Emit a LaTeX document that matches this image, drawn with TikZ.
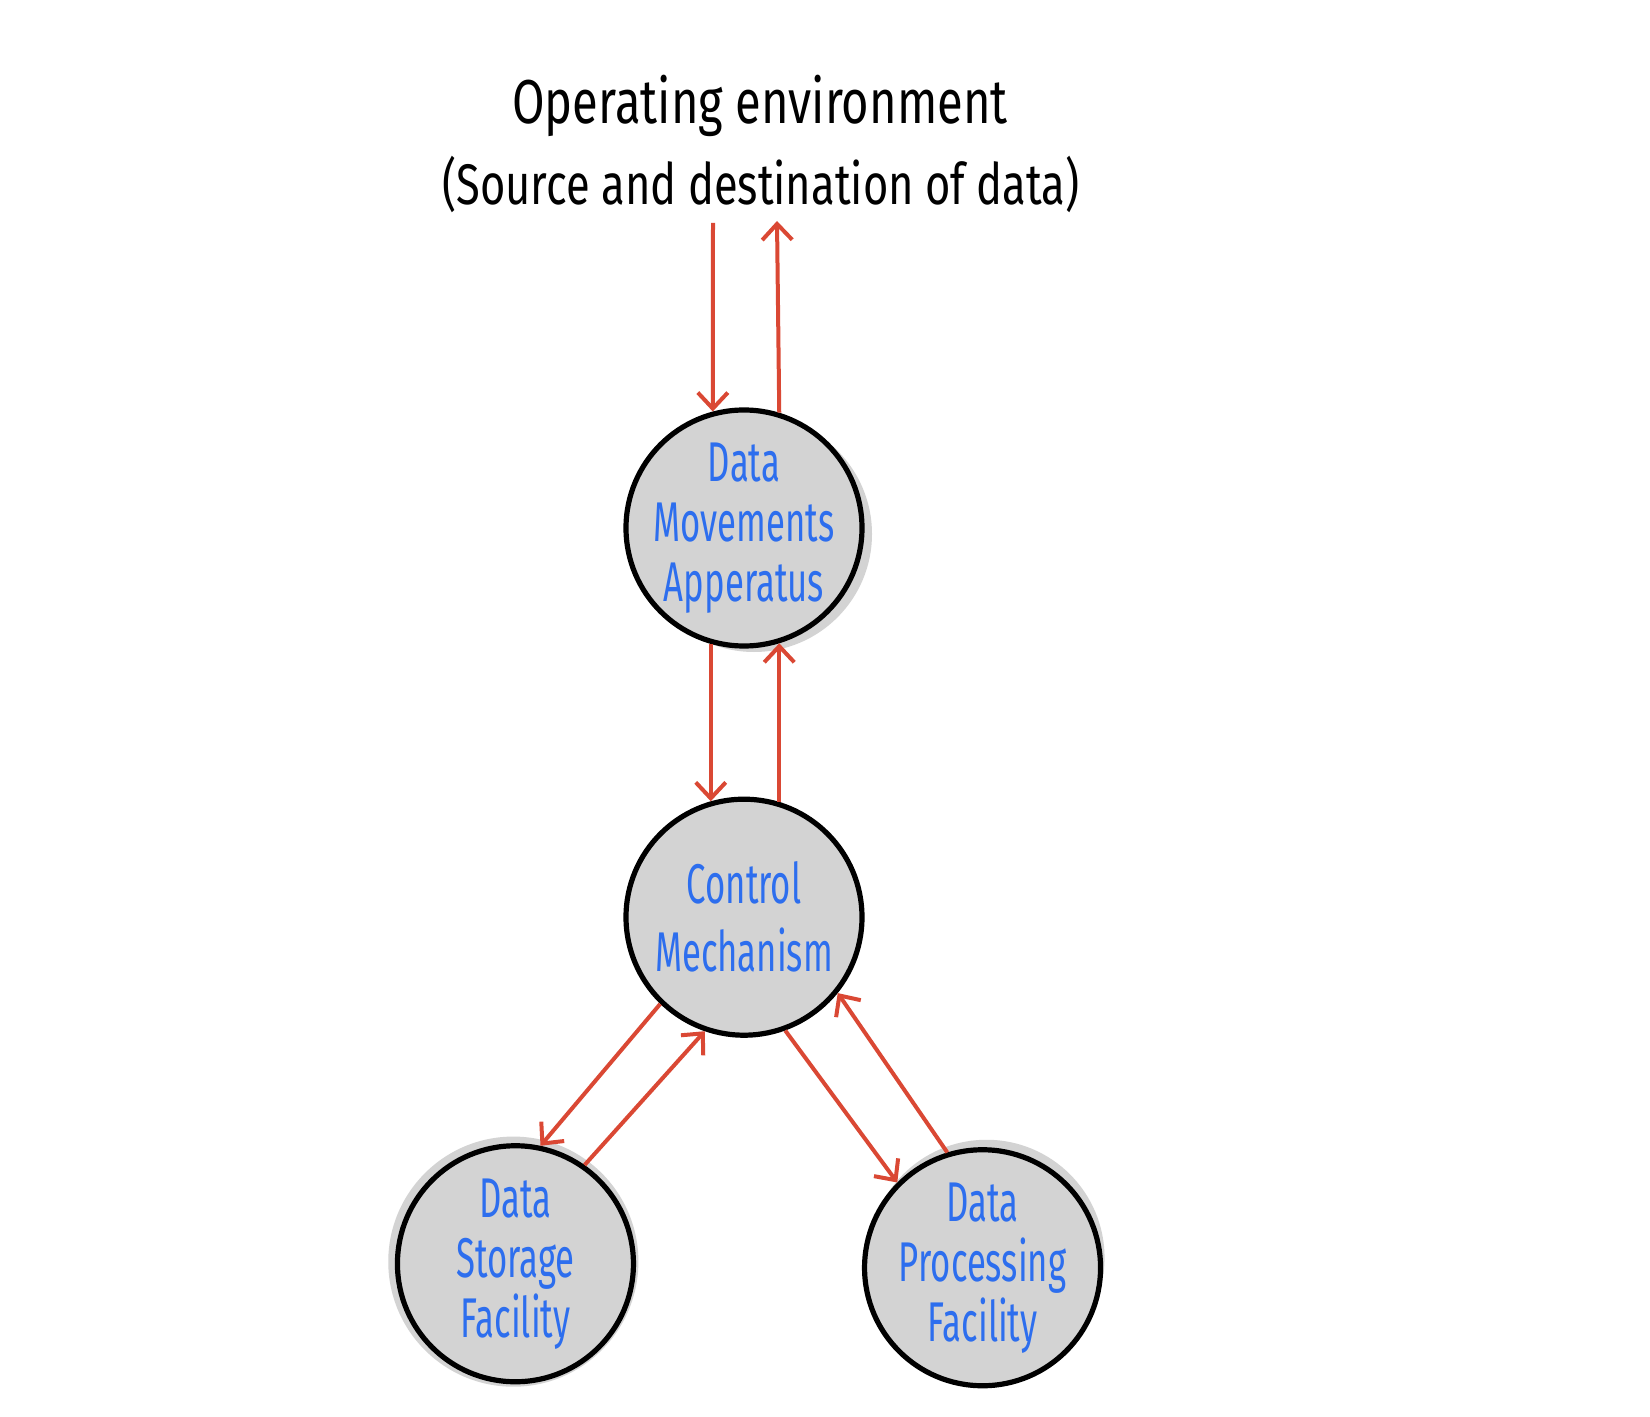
\documentclass[tikz,border=0pt]{standalone}
\usepackage{fontspec}
\setmainfont{Fira Sans}
\newfontfamily\handfont[FakeStretch=0.76]{Fira Sans}
\newfontfamily\discfont[FakeStretch=0.62]{Fira Sans}
\usetikzlibrary{arrows.meta, positioning, shadows}

\definecolor{inkblue}{RGB}{45,110,238}
\definecolor{arrowred}{RGB}{218,72,52}
\definecolor{discgray}{RGB}{211,211,211}

\begin{document}
\begin{tikzpicture}[
    x=0.5pt, y=-0.5pt,
    >={Straight Barb[length=8pt, width=15pt]},
    disc/.style={draw, circle, line width=2.6pt, fill=discgray,
                 minimum size=118pt, inner sep=-10pt, align=center,
                 text=inkblue, font=\discfont\fontsize{28}{30}\selectfont},
    flow/.style={draw=arrowred, line width=2pt, ->}
  ]
  \useasboundingbox (0,0) rectangle (1650,1417);

  \node[font=\handfont\fontsize{31}{36}\selectfont, anchor=base] (env) at (760,124) {Operating environment};
  \node[font=\handfont\fontsize{28.6}{34}\selectfont, anchor=base] (envsub) at (761,205) {(Source and destination of data)};

  \node[disc, drop shadow={shadow xshift=5pt, shadow yshift=-3pt, fill=discgray, opacity=1}] (dma) at (744,528) {Data\\Movements\\Apperatus};
  \node[disc, below=74pt of dma] (cm) {Control\\[4pt]Mechanism};
  \node[disc, drop shadow={shadow xshift=-1pt, shadow yshift=1pt, shadow scale=1.06, fill=discgray, opacity=1}, below left=88pt and 29pt of cm] (store) {Data\\Storage\\Facility};
  \node[disc, drop shadow={shadow xshift=2pt, shadow yshift=5pt, fill=discgray, opacity=1}, below right=90pt and 34pt of cm] (proc) {Data\\Processing\\Facility};

  \coordinate (envin) at (713,223);
  \coordinate (envout) at (777,221);

  \draw[flow] (envin) -- (dma.105);
  \draw[flow] (dma.73) -- (envout);
  \draw[flow] (dma.-106) -- (cm.106);
  \draw[flow] (cm.73) -- (dma.-73);
  \draw[flow] (cm.-134) -- (store.78);
  \draw[flow] (store.55) -- (cm.-109);
  \draw[flow] (cm.-70) -- (proc.135);
  \draw[flow] (proc.107) -- (cm.-39);
\end{tikzpicture}
\end{document}
